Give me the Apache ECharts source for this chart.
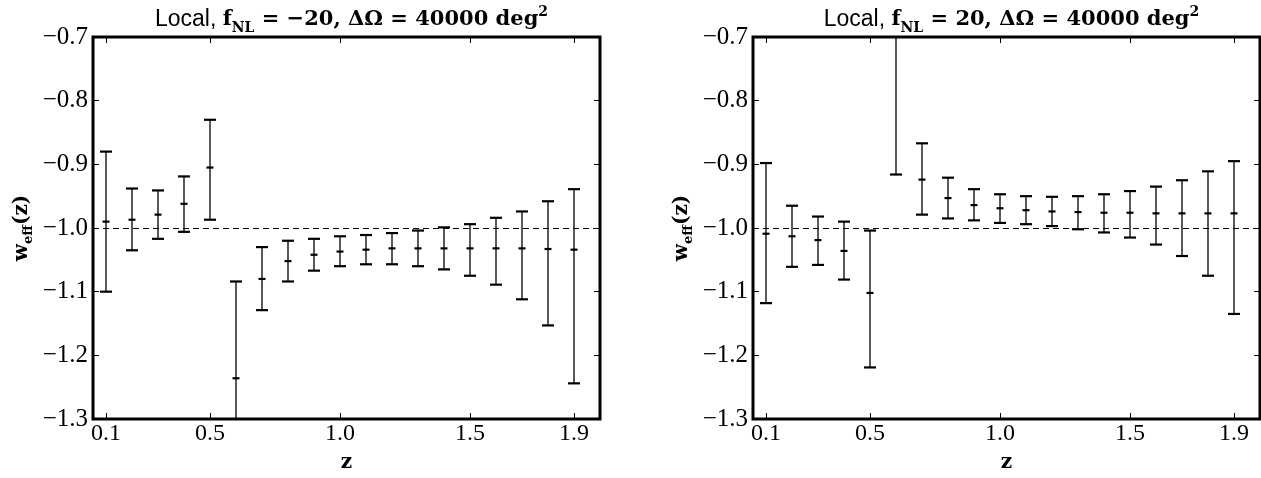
<!DOCTYPE html>
<html>
<head>
<meta charset="utf-8">
<script src="https://cdn.jsdelivr.net/npm/echarts@6/dist/echarts.min.js"></script>
<style>html,body{margin:0;padding:0;background:#fff;}#c{width:1261px;height:478px;}</style>
</head>
<body>
<div id="c"></div>
<script>
// ---- data ----
const zValues = [0.1,0.2,0.3,0.4,0.5,0.6,0.7,0.8,0.9,1.0,1.1,1.2,1.3,1.4,1.5,1.6,1.7,1.8,1.9];
// left panel: fNL = -20
const leftMean = [-0.990,-0.987,-0.979,-0.962,-0.905,-1.236,-1.080,-1.052,-1.042,-1.037,-1.034,-1.032,-1.032,-1.032,-1.032,-1.032,-1.032,-1.033,-1.034];
const leftLow  = [-1.100,-1.035,-1.017,-1.006,-0.987,-1.388,-1.129,-1.084,-1.067,-1.060,-1.057,-1.057,-1.060,-1.065,-1.075,-1.089,-1.112,-1.153,-1.244];
const leftHigh = [-0.880,-0.938,-0.941,-0.919,-0.830,-1.084,-1.030,-1.020,-1.017,-1.013,-1.011,-1.008,-1.004,-0.999,-0.994,-0.984,-0.974,-0.958,-0.939];
// right panel: fNL = 20
const rightMean = [-1.009,-1.013,-1.019,-1.036,-1.102,-0.680,-0.924,-0.953,-0.964,-0.969,-0.972,-0.974,-0.975,-0.976,-0.976,-0.977,-0.977,-0.977,-0.977];
const rightLow  = [-1.118,-1.061,-1.058,-1.081,-1.219,-0.916,-0.979,-0.985,-0.988,-0.992,-0.994,-0.997,-1.002,-1.007,-1.015,-1.026,-1.044,-1.075,-1.135];
const rightHigh = [-0.898,-0.965,-0.982,-0.990,-1.004,-0.420,-0.867,-0.921,-0.939,-0.947,-0.950,-0.951,-0.950,-0.947,-0.942,-0.935,-0.925,-0.911,-0.895];
const referenceW = -1.0;
const xTicks = [0.1,0.5,1.0,1.5,1.9];
const yTicks = [-1.3,-1.2,-1.1,-1.0,-0.9,-0.8,-0.7];
const xRange = [0.05, 2.0];
const yRange = [-1.3, -0.7];

// ---- chart ----
const chart = echarts.init(document.getElementById('c'));
const SERIF = '"Liberation Serif", "DejaVu Serif", serif';
const BSERIF = '"DejaVu Serif", "Liberation Serif", serif';
const SANS = '"Liberation Sans", Arial, sans-serif';

function buildData(mean, lo, hi){
  return zValues.map((z,i)=>[z, mean[i], lo[i], hi[i]]);
}
function fmtY(v){ return (v<0?'\u2212':'') + Math.abs(v).toFixed(1); }
function fmtX(v){ return Number(v).toFixed(1); }

function renderErr(params, api){
  const x = api.value(0), m = api.value(1), lo = api.value(2), hi = api.value(3);
  const cl = Math.max(lo, yRange[0]), ch = Math.min(hi, yRange[1]);
  const children = [];
  const stroke = '#000';
  if (ch > cl) {
    const p1 = api.coord([x, cl]), p2 = api.coord([x, ch]);
    children.push({type:'line', shape:{x1:p1[0],y1:p1[1],x2:p2[0],y2:p2[1]}, style:{stroke, lineWidth:1.3}});
  }
  const capHalf = 6, midHalf = 3.5;
  [[lo,capHalf],[hi,capHalf],[m,midHalf]].forEach(([v,h])=>{
    if (v >= yRange[0] && v <= yRange[1]) {
      const p = api.coord([x, v]);
      children.push({type:'line', shape:{x1:p[0]-h,y1:p[1],x2:p[0]+h,y2:p[1]}, style:{stroke, lineWidth:2.2}});
    }
  });
  return {type:'group', children};
}

const grids = [
  {left: 93, top: 37, width: 507, height: 394},
  {left: 753, top: 37, width: 507, height: 394}
];

const titleRich = {
  l: {fontFamily: SANS, fontSize: 23, fontWeight: 'normal', color:'#000', lineHeight: 30},
  b: {fontFamily: BSERIF, fontSize: 21, fontWeight: 'bold', color:'#000', lineHeight: 30},
  sub: {fontFamily: BSERIF, fontSize: 14, fontWeight: 'bold', color:'#000', lineHeight: 13, verticalAlign: 'bottom'},
  sup: {fontFamily: BSERIF, fontSize: 14, fontWeight: 'bold', color:'#000', lineHeight: 17, verticalAlign: 'top'}
};
const nameRich = {
  b: {fontFamily: BSERIF, fontSize: 20, fontWeight: 'bold', color:'#000', lineHeight: 26},
  sub: {fontFamily: BSERIF, fontSize: 13, fontWeight: 'bold', color:'#000', lineHeight: 11, verticalAlign: 'bottom'}
};

function xAxes(gi){
  return [
    {type:'value', gridIndex:gi, position:'bottom', min:xRange[0], max:xRange[1],
     name:'{b|z}', nameLocation:'middle', nameGap:31, nameTextStyle:{rich:nameRich},
     axisLine:{show:false}, splitLine:{show:false},
     axisTick:{show:true, inside:true, length:6, lineStyle:{color:'#000', width:1}, customValues:xTicks},
     axisLabel:{show:true, customValues:xTicks, formatter:fmtX, color:'#000', fontFamily:SERIF, fontSize:24, margin:3}},
    {type:'value', gridIndex:gi, position:'top', min:xRange[0], max:xRange[1],
     axisLine:{show:false}, splitLine:{show:false},
     axisTick:{show:true, inside:true, length:6, lineStyle:{color:'#000', width:1}, customValues:xTicks},
     axisLabel:{show:false, customValues:xTicks}}
  ];
}
function yAxes(gi){
  return [
    {type:'value', gridIndex:gi, position:'left', min:yRange[0], max:yRange[1],
     name:'{b|w}{sub|eff}{b|(z)}', nameLocation:'middle', nameGap:58, nameRotate:90, nameTextStyle:{rich:nameRich},
     axisLine:{show:false}, splitLine:{show:false},
     axisTick:{show:true, inside:true, length:6, lineStyle:{color:'#000', width:1}, customValues:yTicks},
     axisLabel:{show:true, customValues:yTicks, formatter:fmtY, color:'#000', fontFamily:SERIF, fontSize:25, margin:5}},
    {type:'value', gridIndex:gi, position:'right', min:yRange[0], max:yRange[1],
     axisLine:{show:false}, splitLine:{show:false},
     axisTick:{show:true, inside:true, length:6, lineStyle:{color:'#000', width:1}, customValues:yTicks},
     axisLabel:{show:false, customValues:yTicks}}
  ];
}

function errSeries(idx, mean, lo, hi){
  return {
    type:'custom', xAxisIndex: idx*2, yAxisIndex: idx*2,
    data: buildData(mean, lo, hi), renderItem: renderErr, silent:true, z:3,
    encode:{x:0, y:[1,2,3]},
    markLine:{silent:true, symbol:['none','none'], label:{show:false},
      lineStyle:{color:'#000', type:[6,4], width:1}, data:[{yAxis: referenceW}], animation:false}
  };
}

chart.setOption({
  animation:false,
  backgroundColor:'#fff',
  title:[
    {text:'{l|Local, }{b|f}{sub|NL}{b| = \u221220, \u0394\u03A9 = 40000 deg}{sup|2}', left:346.5, top:0, textAlign:'center', textStyle:{fontWeight:'normal', rich:titleRich}},
    {text:'{l|Local, }{b|f}{sub|NL}{b| = 20, \u0394\u03A9 = 40000 deg}{sup|2}', left:1006.5, top:0, textAlign:'center', textStyle:{fontWeight:'normal', rich:titleRich}}
  ],
  grid: grids.map(g=>Object.assign({show:true, borderColor:'#000', borderWidth:3, backgroundColor:'transparent'}, g)),
  xAxis: [...xAxes(0), ...xAxes(1)],
  yAxis: [...yAxes(0), ...yAxes(1)],
  series: [errSeries(0, leftMean, leftLow, leftHigh), errSeries(1, rightMean, rightLow, rightHigh)]
});
</script>
</body>
</html>
